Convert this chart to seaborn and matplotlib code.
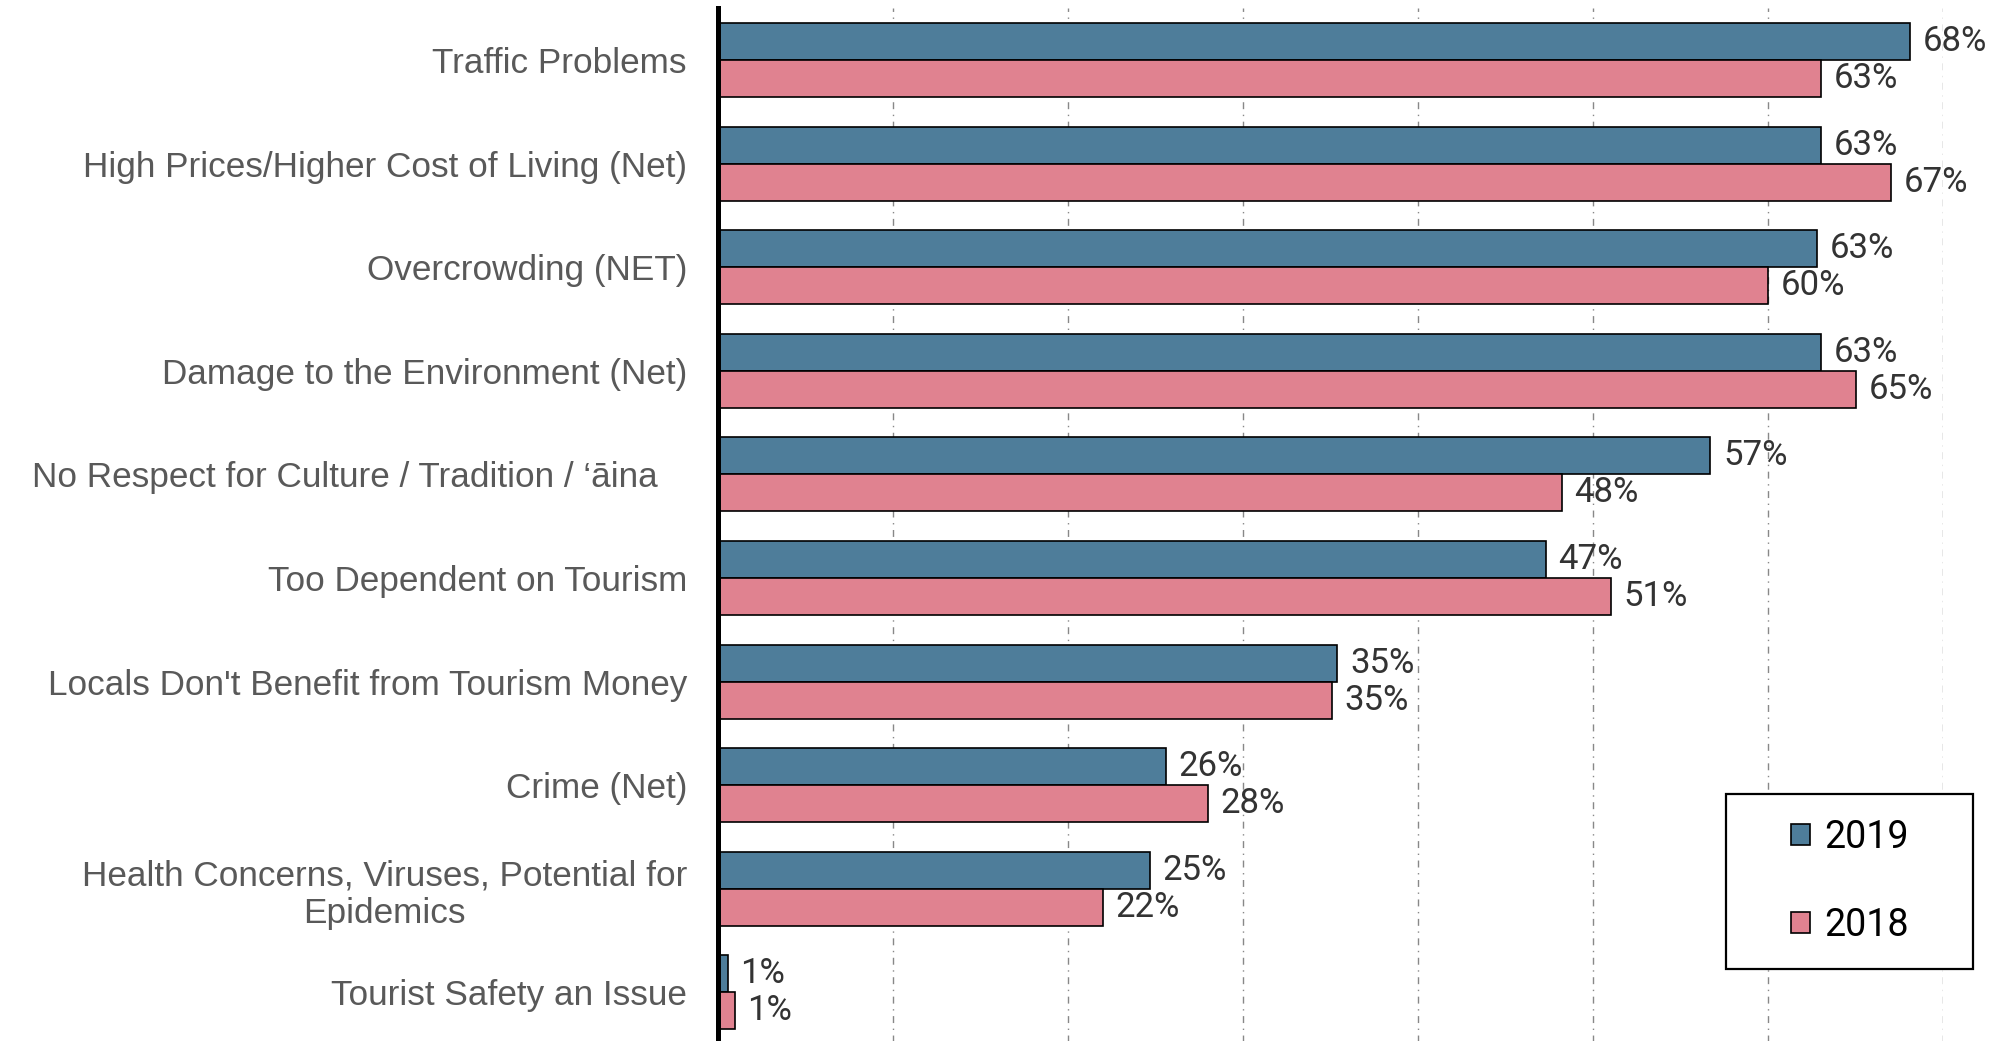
import pandas as pd
import seaborn as sns
import matplotlib.pyplot as plt
from matplotlib.patches import Rectangle

# categories and values (percent)
categories = [
    "Traffic Problems",
    "High Prices/Higher Cost of Living (Net)",
    "Overcrowding (NET)",
    "Damage to the Environment (Net)",
    "No Respect for Culture / Tradition / \u2018\u0101ina   ",
    "Too Dependent on Tourism",
    "Locals Don't Benefit from Tourism Money",
    "Crime (Net)",
    "Health Concerns, Viruses, Potential for\nEpidemics",
    "Tourist Safety an Issue",
]
vals_2019 = [68.1, 63.0, 62.8, 63.0, 56.7, 47.3, 35.4, 25.6, 24.7, 0.6]
vals_2018 = [63.0, 67.0, 60.0, 65.0, 48.2, 51.0, 35.1, 28.0, 22.0, 1.0]
years = ["2019", "2018"]
colors = {"2019": "#4E7D9A", "2018": "#E08290"}

df = pd.DataFrame({
    "category": categories * 2,
    "value": vals_2019 + vals_2018,
    "year": [years[0]] * len(categories) + [years[1]] * len(categories),
})

sns.set_style("white")
plt.rcParams["font.family"] = ["Roboto", "DejaVu Sans"]

fig = plt.figure(figsize=(20.02, 10.41), dpi=100)
ax = fig.add_axes([0.3584, -0.003, 0.9707 - 0.3584, 0.995])

sns.barplot(data=df, y="category", x="value", hue="year", hue_order=years,
            palette=colors, order=categories, orient="h", width=0.715,
            edgecolor="black", linewidth=1.2, saturation=1, ax=ax)

ax.set_xlim(0, 70)
ax.set_xticks(range(10, 71, 10))
ax.set_xticklabels([])
ax.set_xlabel("")
ax.set_ylabel("")
ax.grid(axis="x", color="#888888", linewidth=1, linestyle=(0, (5, 4, 1, 4)))
ax.grid(axis="y", visible=False)
ax.set_axisbelow(True)
for s in ["top", "right", "bottom"]:
    ax.spines[s].set_visible(False)
ax.spines["left"].set_linewidth(3.6)
ax.spines["left"].set_color("black")
ax.tick_params(axis="y", length=0, pad=22)
ax.tick_params(axis="x", length=0)

for lab in ax.get_yticklabels():
    lab.set_fontfamily(["Liberation Sans", "DejaVu Sans"])
    lab.set_fontsize(25.3)
    lab.set_color("#595959")
    lab.set_multialignment("center")

for cont, vals in zip(ax.containers, [vals_2019, vals_2018]):
    ax.bar_label(cont, labels=[f"{round(v)}%" for v in vals], padding=9,
                 fontsize=25, color="#333333", clip_on=False)

# legend box drawn separately so its padding can match the reference
box = Rectangle((1352 / 1568, 1 - 759 / 815), 193 / 1568, 137 / 815,
                transform=fig.transFigure, facecolor="white",
                edgecolor="black", linewidth=1.6, zorder=5, clip_on=False)
ax.add_patch(box)
leg = ax.legend(loc="center", bbox_to_anchor=(1449 / 1568, 1 - 690 / 815),
                bbox_transform=fig.transFigure, fontsize=27, frameon=False,
                labelspacing=1.35, handlelength=0.5, handleheight=0.5,
                handletextpad=0.4, borderaxespad=0)
leg.set_zorder(6)
for t in leg.get_texts():
    t.set_color("black")

fig.savefig("out.png", dpi=100)
